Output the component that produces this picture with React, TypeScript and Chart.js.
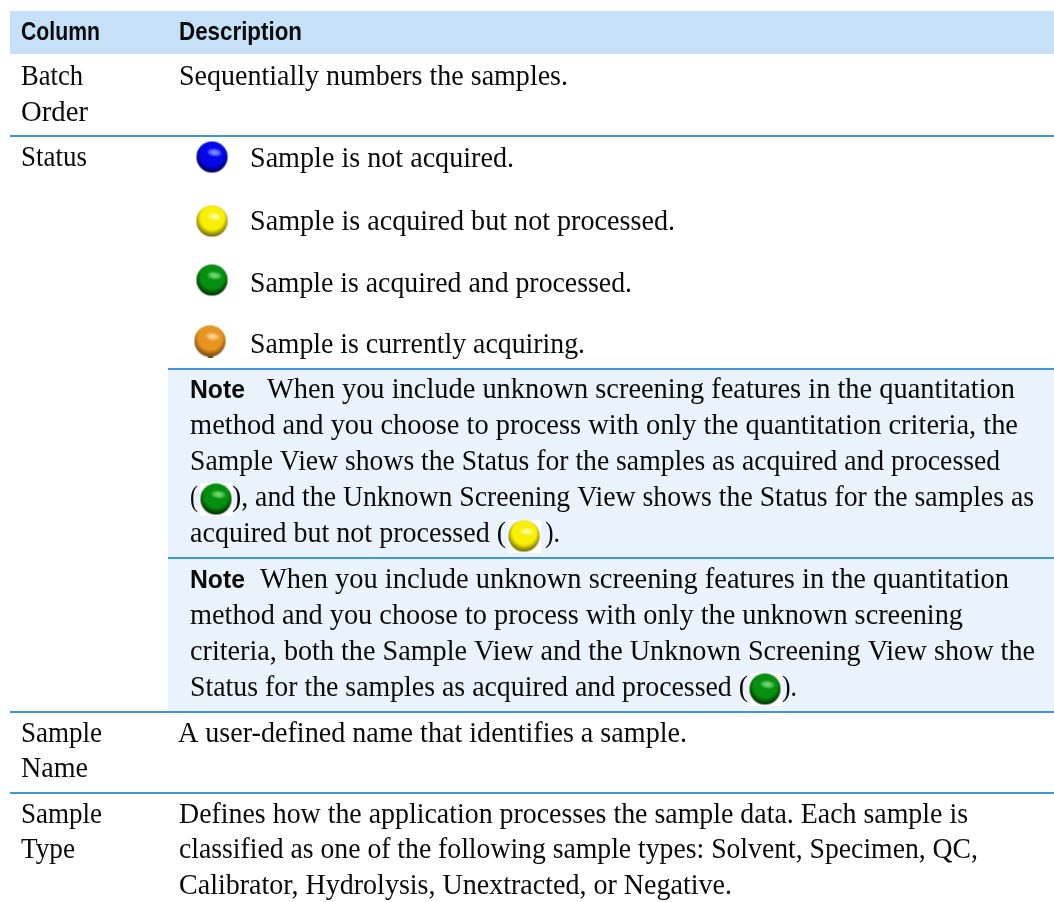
import React, { useEffect, useRef } from "react";
import { Chart, registerables } from "chart.js";

Chart.register(...registerables);

const W = 1054;
const H = 902;

// ---- table content ----
const headers = ["Column", "Description"];
const columnLabels = ["Batch", "Order", "Status", "Sample", "Name", "Sample", "Type"];
const descriptionLines = [
  "Sequentially numbers the samples.",
  "A user-defined name that identifies a sample.",
  "Defines how the application processes the sample data. Each sample is",
  "classified as one of the following sample types: Solvent, Specimen, QC,",
  "Calibrator, Hydrolysis, Unextracted, or Negative.",
];
const statusLines = [
  "Sample is not acquired.",
  "Sample is acquired but not processed.",
  "Sample is acquired and processed.",
  "Sample is currently acquiring.",
];
const noteWord = "Note";
const noteOneLines = [
  "When you include unknown screening features in the quantitation",
  "method and you choose to process with only the quantitation criteria, the",
  "Sample View shows the Status for the samples as acquired and processed",
  "(",
  "), and the Unknown Screening View shows the Status for the samples as",
  "acquired but not processed (",
  ").",
];
const noteTwoLines = [
  "When you include unknown screening features in the quantitation",
  "method and you choose to process with only the unknown screening",
  "criteria, both the Sample View and the Unknown Screening View show the",
  "Status for the samples as acquired and processed (",
  ").",
];

// ---- status markers (plot units are page pixels) ----
const blueDots = [{ x: 212, y: 157 }];
const yellowDots = [{ x: 212, y: 221 }];
const greenDots = [{ x: 212, y: 280 }];
const orangeDots = [{ x: 210, y: 341 }];
const inlineGreenDots = [{ x: 216, y: 499 }, { x: 765, y: 689 }];
const inlineYellowDots = [{ x: 524, y: 536 }];

// ---- layout: [text, left, baseline, right] ----
const SERIF = '"Liberation Serif"';
const SANS = '"Liberation Sans"';

type Row = [string, number, number, number];
const serifRows: Row[] = [
  [columnLabels[0], 21, 85, 83],
  [columnLabels[1], 21, 121, 88],
  [columnLabels[2], 21, 166, 87],
  [columnLabels[3], 21, 742, 102],
  [columnLabels[4], 21, 777, 88],
  [columnLabels[5], 21, 823, 102],
  [columnLabels[6], 21, 858, 75],
  [descriptionLines[0], 179, 85, 568],
  [descriptionLines[1], 178, 742, 687],
  [descriptionLines[2], 179, 823, 968],
  [descriptionLines[3], 179, 858, 978],
  [descriptionLines[4], 179, 894, 732],
  [statusLines[0], 250, 167, 514],
  [statusLines[1], 250, 230, 675],
  [statusLines[2], 250, 292, 632],
  [statusLines[3], 250, 353, 585],
  [noteOneLines[0], 267, 398, 1015],
  [noteOneLines[1], 190, 434, 1018],
  [noteOneLines[2], 190, 470, 1000],
  [noteOneLines[3], 190, 506, 198],
  [noteOneLines[4], 232, 506, 1034],
  [noteOneLines[5], 190, 542, 506],
  [noteOneLines[6], 545, 542, 560],
  [noteTwoLines[0], 260, 588, 1009],
  [noteTwoLines[1], 190, 624, 963],
  [noteTwoLines[2], 190, 660, 1035],
  [noteTwoLines[3], 190, 696, 748],
  [noteTwoLines[4], 782, 696, 797],
];
const boldRows: Row[] = [
  [headers[0], 21, 40, 100],
  [headers[1], 179, 40, 302],
  [noteWord, 190, 398, 245],
  [noteWord, 190, 588, 245],
];

function sphere(light: string, mid: string, dark: string, matte: boolean, stem = false) {
  const size = 33;
  const c = document.createElement("canvas");
  c.width = size;
  c.height = size;
  const g = c.getContext("2d")!;
  if (matte) {
    g.fillStyle = "#ffffff";
    g.fillRect(0, 0, size, size);
  }
  if (stem) {
    g.fillStyle = dark;
    g.fillRect(14.5, 28, 5, 5);
  }
  const body = g.createRadialGradient(17.5, 12, 2, 16.5, 14, 18.5);
  body.addColorStop(0, mid);
  body.addColorStop(0.6, mid);
  body.addColorStop(1, dark);
  g.save();
  g.fillStyle = body;
  g.shadowColor = "rgba(80,80,90,0.4)";
  g.shadowBlur = 1.5;
  g.beginPath();
  g.arc(16.5, 16.5, 15.5, 0, Math.PI * 2);
  g.fill();
  g.restore();
  // elongated highlight, up and right of centre
  g.save();
  g.translate(19, 12);
  g.rotate(0.12);
  g.scale(1, 0.55);
  const shine = g.createRadialGradient(0, 0, 0, 0, 0, 8);
  shine.addColorStop(0, light);
  shine.addColorStop(1, "rgba(255,255,255,0)");
  g.fillStyle = shine;
  g.beginPath();
  g.arc(0, 0, 8, 0, Math.PI * 2);
  g.fill();
  g.restore();
  return c;
}

const tablePlugin = {
  id: "tablePlugin",
  beforeDatasetsDraw(chart: any) {
    const { ctx, scales } = chart;
    const X = (v: number) => scales.x.getPixelForValue(v);
    const Y = (v: number) => scales.y.getPixelForValue(v);
    const band = (x0: number, y0: number, x1: number, y1: number, col: string) => {
      ctx.fillStyle = col;
      ctx.fillRect(X(x0), Y(y0), X(x1) - X(x0), Y(y1) - Y(y0));
    };
    ctx.save();
    band(10, 11, W, 54, "#c5e0f7");
    band(168, 370, W, 712, "#eaf3fc");
    band(10, 135, W, 137, "#3f95e2");
    band(168, 368, W, 370, "#3f95e2");
    band(168, 557, W, 559, "#3f95e2");
    band(10, 711, W, 713, "#3f95e2");
    band(10, 792, W, 794, "#3f95e2");
    ctx.restore();
  },
  afterDatasetsDraw(chart: any) {
    const { ctx, scales } = chart;
    const put = (rows: Row[], font: string) => {
      ctx.font = font;
      ctx.fillStyle = "#0b0b0b";
      ctx.textBaseline = "alphabetic";
      ctx.textAlign = "left";
      rows.forEach(([t, l, b, r]) => {
        const w = ctx.measureText(t).width;
        ctx.save();
        ctx.translate(scales.x.getPixelForValue(l), scales.y.getPixelForValue(b));
        ctx.scale((r - l) / w, 1);
        ctx.fillText(t, 0, 0);
        ctx.restore();
      });
    };
    ctx.save();
    put(serifRows, `29px ${SERIF}`);
    put(boldRows, `bold 26px ${SANS}`);
    ctx.restore();
  },
};

export default function App() {
  const ref = useRef<HTMLCanvasElement | null>(null);
  useEffect(() => {
    const dot = (data: { x: number; y: number }[], style: HTMLCanvasElement, label: string) => ({
      label,
      data,
      pointStyle: style,
      pointRadius: 17,
      showLine: false,
    });
    const chart = new Chart(ref.current!, {
      type: "scatter",
      data: {
        datasets: [
          dot(blueDots, sphere("#6a9cff", "#0408ea", "#00003c", false), "Not acquired"),
          dot(yellowDots, sphere("#ffffc0", "#f8f000", "#5e5800", false), "Not processed"),
          dot(greenDots, sphere("#52f052", "#06900f", "#001f00", false), "Processed"),
          dot(orangeDots, sphere("#fbd9a0", "#e8951f", "#6b420c", false, true), "Acquiring"),
          dot(inlineGreenDots, sphere("#52f052", "#06900f", "#001f00", true), "Processed inline"),
          dot(inlineYellowDots, sphere("#ffffc0", "#f8f000", "#5e5800", true), "Not processed inline"),
        ] as any,
      },
      options: {
        animation: false,
        responsive: false,
        layout: { padding: 0, autoPadding: false },
        plugins: { legend: { display: false }, tooltip: { enabled: false }, title: { display: false } },
        scales: {
          x: { type: "linear", min: 0, max: W, display: false },
          y: { type: "linear", min: 0, max: H, reverse: true, display: false },
        },
      },
      plugins: [tablePlugin as any],
    });
    return () => chart.destroy();
  }, []);
  return (
    <div style={{ position: "absolute", left: 0, top: 0, width: W, height: H, overflow: "hidden", background: "#fff" }}>
      <canvas ref={ref} width={W} height={H} style={{ display: "block" }} />
    </div>
  );
}
